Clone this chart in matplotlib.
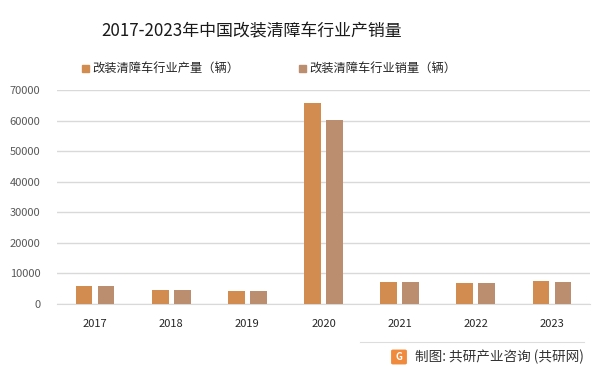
import matplotlib.pyplot as plt
import numpy as np
from matplotlib.patches import FancyBboxPatch

plt.rcParams['font.family'] = ['Noto Sans CJK SC', 'DejaVu Sans']

years = ['2017', '2018', '2019', '2020', '2021', '2022', '2023']
production = [5900, 4500, 4200, 65700, 7100, 6800, 7500]
sales = [5900, 4500, 4200, 60100, 7100, 6800, 7100]

prod_color = '#D38C4F'
sales_color = '#BA8E6F'

fig = plt.figure(figsize=(6.03, 3.75), dpi=100)
ax = fig.add_axes([57 / 603, 1 - 303.7 / 375, 533 / 603, 213.7 / 375])

x = np.arange(len(years))
w = 0.22
ax.bar(x - 0.145, production, width=w, color=prod_color, zorder=3)
ax.bar(x + 0.145, sales, width=w, color=sales_color, zorder=3)

ax.set_xlim(-0.5, len(years) - 0.5)
ax.set_ylim(0, 70000)
ax.set_yticks(range(0, 70001, 10000))
ax.yaxis.grid(True, color='#D9D9D9', linewidth=1)
ax.set_axisbelow(True)
for s in ['top', 'right', 'left']:
    ax.spines[s].set_visible(False)
ax.spines['bottom'].set_color('#D9D9D9')
ax.tick_params(axis='y', length=0, labelsize=8, labelcolor='#595959', pad=12)
ax.tick_params(axis='x', length=0, labelsize=8, labelcolor='#262626', pad=11)
ax.set_xticks(x)
ax.set_xticklabels(years)

fig.text(252 / 603, 1 - 31 / 375, '2017-2023年中国改装清障车行业产销量', ha='center', va='center',
         fontsize=12.2, color='#1a1a1a')

# legend
fig.patches.append(plt.Rectangle((82 / 603, 1 - 72 / 375), 7 / 603, 7 / 375,
                                 transform=fig.transFigure, color=prod_color))
fig.text(92 / 603, 1 - 68 / 375, '改装清障车行业产量（辆）', va='center', fontsize=8.8, color='#262626')
fig.patches.append(plt.Rectangle((299 / 603, 1 - 72 / 375), 7 / 603, 7 / 375,
                                 transform=fig.transFigure, color=sales_color))
fig.text(309 / 603, 1 - 68 / 375, '改装清障车行业销量（辆）', va='center', fontsize=8.8, color='#262626')

# footer
fig.add_artist(plt.Line2D([360 / 603, 584 / 603], [1 - 342 / 375, 1 - 342 / 375],
                          transform=fig.transFigure, color='#DDDDDD', linewidth=0.8))
fig.patches.append(FancyBboxPatch((393 / 603, 1 - 363 / 375), 12 / 603, 12 / 375,
                                  boxstyle='round,pad=0.002', transform=fig.transFigure,
                                  color='#F08A3C'))
fig.text(399 / 603, 1 - 357 / 375, 'G', ha='center', va='center', fontsize=7,
         color='white', fontweight='bold')
fig.text(415 / 603, 1 - 357 / 375, '制图: 共研产业咨询 (共研网)', va='center',
         fontsize=9.8, color='#333333')

fig.savefig('out.png', dpi=100)
